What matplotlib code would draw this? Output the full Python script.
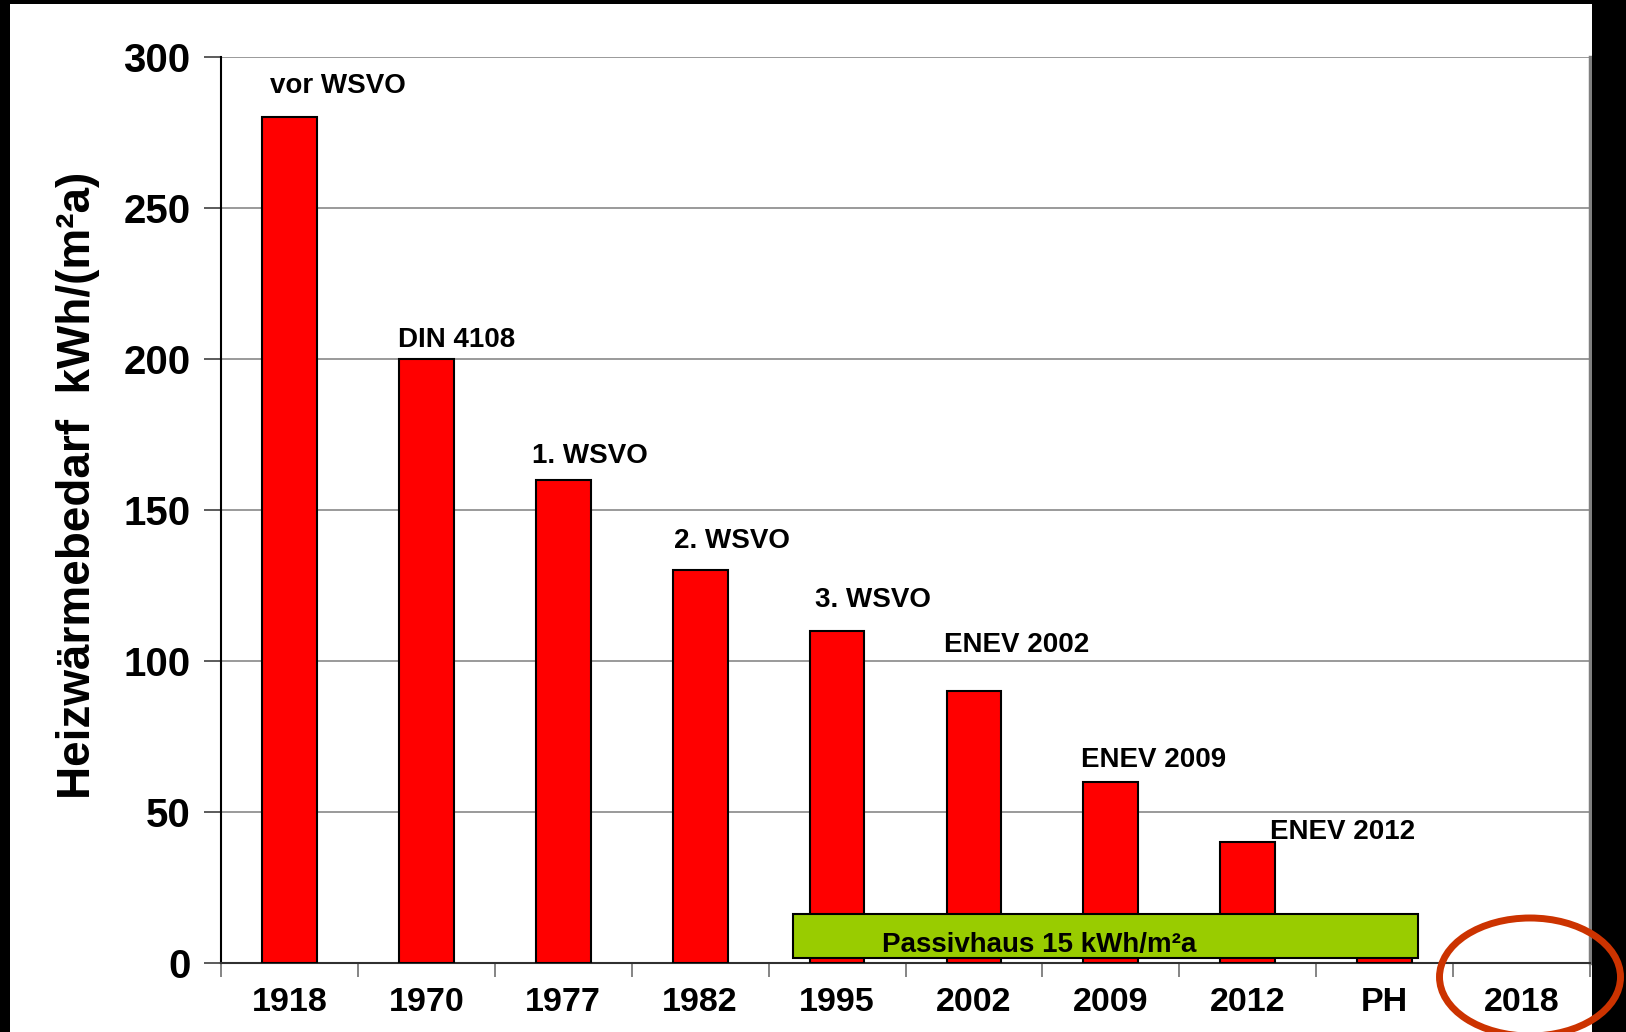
import numpy as np
import matplotlib
matplotlib.use("Agg")
import matplotlib.pyplot as plt
from matplotlib.patches import Rectangle, Ellipse

plt.rcParams["font.family"] = ["Liberation Sans", "DejaVu Sans"]
plt.rcParams["font.weight"] = "bold"

# Heating demand by building standard
years = ["1918", "1970", "1977", "1982", "1995", "2002", "2009", "2012", "PH", "2018"]
demand = [280, 200, 160, 130, 110, 90, 60, 40, 15, None]
standards = ["vor WSVO", "DIN 4108", "1. WSVO", "2. WSVO", "3. WSVO",
             "ENEV 2002", "ENEV 2009", "ENEV 2012"]
passivhaus_label = "Passivhaus 15 kWh/m²a"
passivhaus_level = 15
y_ticks = [0, 50, 100, 150, 200, 250, 300]
y_label = "Heizwärmebedarf  kWh/(m²a)"

# label placement relative to each bar (x offset in slots, y offset in kWh)
label_dx = [-0.14, -0.21, -0.23, -0.19, -0.16, -0.22, -0.22, 0.16]
label_dy = [8, 4, 5.5, 7.5, 8, 13, 5, 1]

W, H = 1626, 1032
fig = plt.figure(figsize=(W / 100, H / 100), dpi=100, facecolor="white")
ax = fig.add_axes([221 / W, 1 - 963 / H, (1590 - 221) / W, (963 - 57) / H])

x = np.arange(len(years))
bar_w = 0.4
for xi, v in zip(x, demand):
    if v is None:
        continue
    ax.bar(xi, v, width=bar_w, color="#ff0000", edgecolor="black",
           linewidth=1.5, zorder=3)

for i, (txt, dx, dy) in enumerate(zip(standards, label_dx, label_dy)):
    ax.text(x[i] + dx, demand[i] + dy, txt, ha="left", va="baseline",
            fontsize=20, fontweight="bold", color="black", zorder=5)

# Passivhaus band across the later standards
band_x0, band_x1 = 3.68, 8.24
ax.add_patch(Rectangle((band_x0, 1.7), band_x1 - band_x0, passivhaus_level + 1.2 - 1.7,
                       facecolor="#99cc00", edgecolor="black", linewidth=1.5,
                       zorder=4))
ax.text(5.48, 3.7, passivhaus_label, ha="center", va="baseline",
        fontsize=20, fontweight="bold", zorder=6)

ax.set_xlim(-0.5, len(years) - 0.5)
ax.set_ylim(0, 300)
ax.set_yticks(y_ticks)
ax.set_yticklabels([str(t) for t in y_ticks], fontsize=29, fontweight="bold")
ax.tick_params(axis="y", direction="out", length=12, width=1.2,
               color="#404040", pad=10)

# category labels centred in slots, tick marks on slot boundaries
ax.set_xticks(np.arange(-0.5, len(years)), labels=[])
ax.set_xticks(x, labels=years, minor=True)
ax.tick_params(axis="x", which="major", direction="out", length=10,
               width=1.2, color="#707070")
ax.tick_params(axis="x", which="minor", length=0, pad=17, labelsize=24.5)
for lab in ax.get_xticklabels(minor=True):
    lab.set_fontweight("bold")

ax.grid(axis="y", color="#7f7f7f", linewidth=1.1, zorder=0)
ax.set_axisbelow(True)
ax.spines["top"].set_visible(False)
ax.spines["left"].set_color("black")
ax.spines["left"].set_linewidth(1.5)
ax.spines["bottom"].set_color("#303030")
ax.spines["bottom"].set_linewidth(1.5)
ax.spines["right"].set_color("#808080")
ax.spines["right"].set_linewidth(2.5)

fig.text(78 / W, 1 - 485 / H, y_label, rotation=90, ha="center", va="center",
         fontsize=33, fontweight="bold")

# dark frame edges
for rx, ry, rw, rh in [(0, 0, 10, H), (0, 0, W, 4), (1592, 0, W - 1592, H)]:
    fig.add_artist(Rectangle((rx / W, 1 - (ry + rh) / H), rw / W, rh / H,
                             transform=fig.transFigure, facecolor="black",
                             edgecolor="none", zorder=10))

# highlight ring around the 2018 slot
fig.add_artist(Ellipse((1530 / W, 1 - 977 / H), 181 / W, 118 / H,
                       transform=fig.transFigure, facecolor="none",
                       edgecolor="#cc3300", linewidth=5, zorder=11))

fig.savefig("out.png", dpi=100, facecolor="white")
